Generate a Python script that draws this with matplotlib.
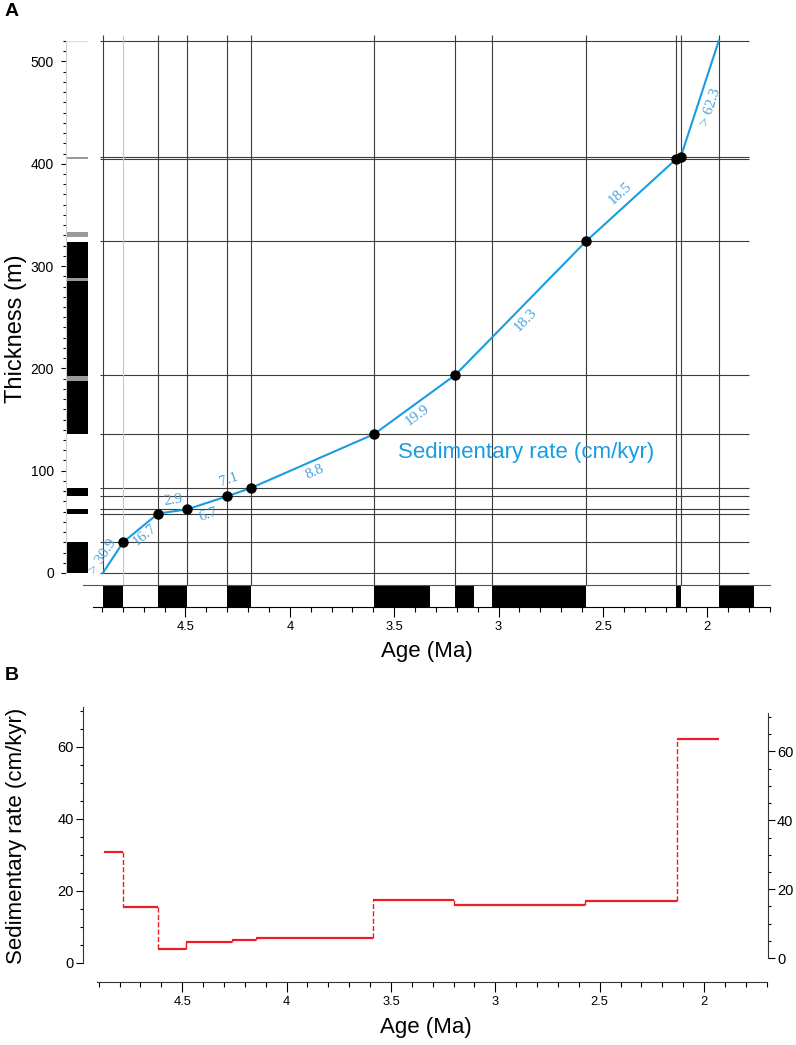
import numpy as np
import matplotlib
matplotlib.use("Agg")
import matplotlib.pyplot as plt
from matplotlib.ticker import MultipleLocator, FixedLocator

plt.rcParams['font.family'] = ['Liberation Sans', 'DejaVu Sans']

W, H = 796, 1045

# age model tie points: age (Ma) vs stratigraphic thickness (m)
tie_age = [4.896, 4.799, 4.631, 4.493, 4.300, 4.187, 3.596, 3.207, 2.581, 2.148, 2.128, 1.945]
tie_thick = [0, 30, 58.1, 62.1, 75, 83, 135.7, 193.5, 324, 404.5, 406, 520]
rate_labels = ['> 30.9', '16.7', '2.9', '6.7', '7.1', '8.8', '19.9', '18.3', '18.5', '', '> 62.3']

# extra chron boundaries drawn as vertical lines
chron_lines = [4.896, 4.799, 4.631, 4.493, 4.300, 4.187, 3.596, 3.207, 3.032, 2.581, 2.148, 2.128, 1.945]

# GPTS normal polarity intervals (Ma)
gpts_base = [4.896, 4.631, 4.300, 3.596, 3.207, 3.032, 2.148, 1.945]
gpts_top = [4.799, 4.493, 4.187, 3.330, 3.116, 2.581, 2.128, 1.778]

# section polarity column (m)
col_black = [(0, 30), (58.1, 62.1), (75, 83), (136, 324)]
col_gray = [(188, 193), (285, 288), (328, 333), (405, 406.5)]

# panel B step curve
b_edges = [4.875, 4.785, 4.615, 4.482, 4.263, 4.147, 3.585, 3.198, 2.571, 2.13, 1.929]
b_rate = [30.9, 15.6, 3.8, 5.8, 6.4, 6.9, 17.5, 16.1, 17.2, 62.0]

BLUE = '#1a9de0'
LBLUE = '#4aa3dc'
RED = '#ee1c24'
GRID = '#3c3c3c'


def rect(x0, y0, x1, y1):
    return [x0 / W, 1 - y1 / H, (x1 - x0) / W, (y1 - y0) / H]


fig = plt.figure(figsize=(W / 100, H / 100), dpi=100)

# ---------------- panel A ----------------
XL = (4.991, 1.7)
axA = fig.add_axes(rect(83, 35, 770, 585))
axA.set_xlim(*XL)
axA.set_ylim(-11.7, 525.4)
axA.axis('off')

for t in tie_thick:
    axA.hlines(t, 4.91, 1.801, color=GRID, lw=0.8)
for a in chron_lines:
    c = '#c8c8c8' if a == 4.799 else GRID
    lo = 0 if a == 4.896 else -11.7
    axA.vlines(a, lo, 525.4, color=c, lw=0.8)

axA.plot(tie_age, tie_thick, color=BLUE, lw=1.5, zorder=3)
axA.plot(tie_age[1:-1], tie_thick[1:-1], 'o', color='black', ms=6.5, zorder=4)

label_xy = [(4.895, 15.6), (4.694, 37), (4.560, 71.3), (4.392, 56.6), (4.292, 90.8),
            (3.880, 98.6), (3.391, 154.3), (2.869, 247), (2.419, 371), None, (1.983, 455)]
for i, lab in enumerate(rate_labels):
    if not lab:
        continue
    p0 = axA.transData.transform((tie_age[i], tie_thick[i]))
    p1 = axA.transData.transform((tie_age[i + 1], tie_thick[i + 1]))
    ang = np.degrees(np.arctan2(p1[1] - p0[1], p1[0] - p0[0]))
    axA.text(*label_xy[i], lab, rotation=ang, rotation_mode='anchor', ha='center', va='center',
             color=LBLUE, fontsize=11, family=['Liberation Serif', 'DejaVu Serif'], zorder=5)

axA.text(3.482, 118, 'Sedimentary rate (cm/kyr)', color=BLUE, fontsize=16, ha='left', va='center')

# polarity bar along age axis
axBar = fig.add_axes(rect(83, 585, 770, 607))
axBar.set_xlim(*XL)
axBar.set_ylim(0, 1)
for b, t in zip(gpts_base, gpts_top):
    axBar.axvspan(b, t, color='black', lw=0)
for s in ['left', 'right']:
    axBar.spines[s].set_visible(False)
axBar.spines['top'].set_color('#555555')
axBar.spines['top'].set_linewidth(0.8)
axBar.spines['bottom'].set_linewidth(0.8)
axBar.spines['bottom'].set_bounds(4.944, 1.7)
axBar.set_yticks([])
axBar.xaxis.set_major_locator(FixedLocator([4.5, 4, 3.5, 3, 2.5, 2]))
axBar.xaxis.set_minor_locator(FixedLocator(np.round(np.arange(1.7, 4.95, 0.1), 2)))
axBar.set_xticklabels(['4.5', '4', '3.5', '3', '2.5', '2'])
axBar.tick_params(axis='x', which='major', length=7.2, width=0.8, labelsize=9.3, pad=3)
axBar.tick_params(axis='x', which='minor', length=3.6, width=0.8)
axBar.set_xlabel('Age (Ma)', fontsize=16, labelpad=6)

# polarity column along thickness axis
axC = fig.add_axes(rect(66, 41, 88, 573))
axC.set_xlim(0, 1)
axC.set_ylim(0, 520)
for lo, hi in col_black:
    axC.axhspan(lo, hi, color='black', lw=0)
for lo, hi in col_gray:
    axC.axhspan(lo, hi, color='#9a9a9a', lw=0)
axC.axhline(520, color='#dddddd', lw=1)
for s in ['top', 'right', 'bottom']:
    axC.spines[s].set_visible(False)
axC.spines['left'].set_color('#d0d0d0')
axC.set_xticks([])
axC.yaxis.set_major_locator(MultipleLocator(100))
axC.yaxis.set_minor_locator(MultipleLocator(10))
axC.tick_params(axis='y', which='major', length=3.6, width=0.8, labelsize=10, pad=5)
axC.tick_params(axis='y', which='minor', length=2.4, width=0.8)

fig.text(16 / W, 1 - 329 / H, 'Thickness (m)', rotation=90, fontsize=17, ha='center', va='center')

# ---------------- panel B ----------------
axB = fig.add_axes(rect(83, 707, 768, 963))
axB.set_xlim(4.975, 1.694)
axB.set_ylim(0, 71)
for i, r in enumerate(b_rate):
    axB.hlines(r, b_edges[i], b_edges[i + 1], color=RED, lw=1.6)
    if i + 1 < len(b_rate):
        r2 = b_rate[i + 1]
        ls = '--' if abs(r2 - r) > 3 else '-'
        axB.vlines(b_edges[i + 1], r, r2, color=RED, lw=1.0, linestyles=ls)

axB.spines['top'].set_visible(False)
axB.spines['right'].set_visible(False)
axB.spines['bottom'].set_position(('outward', 13.7))
axB.spines['bottom'].set_bounds(4.91, 1.7)
axB.spines['left'].set_bounds(0, 71)
for s in ['left', 'bottom']:
    axB.spines[s].set_linewidth(0.8)
    axB.spines[s].set_color('#333333')
axB.xaxis.set_major_locator(FixedLocator([4.5, 4, 3.5, 3, 2.5, 2]))
axB.xaxis.set_minor_locator(FixedLocator(np.round(np.arange(1.7, 4.95, 0.1), 2)))
axB.set_xticklabels(['4.5', '4', '3.5', '3', '2.5', '2'])
axB.tick_params(axis='x', which='major', length=7.2, width=0.8, labelsize=9.3, pad=3)
axB.tick_params(axis='x', which='minor', length=3.6, width=0.8)
axB.yaxis.set_major_locator(MultipleLocator(20))
axB.yaxis.set_minor_locator(MultipleLocator(5))
axB.tick_params(axis='y', which='major', length=5, width=0.8, labelsize=10.5, pad=1.5)
axB.tick_params(axis='y', which='minor', length=2.4, width=0.8)
axB.set_xlabel('Age (Ma)', fontsize=16, labelpad=6)

axR = axB.twinx()
axR.set_ylim(-1.4, 72.9)
for s in ['top', 'left', 'bottom']:
    axR.spines[s].set_visible(False)
axR.spines['right'].set_bounds(0, 71.2)
axR.spines['right'].set_linewidth(0.8)
axR.spines['right'].set_color('#333333')
axR.yaxis.set_major_locator(MultipleLocator(20))
axR.yaxis.set_minor_locator(MultipleLocator(5))
axR.tick_params(axis='y', which='major', length=5, width=0.8, labelsize=10.5, pad=1.5)
axR.tick_params(axis='y', which='minor', length=2.4, width=0.8)

fig.text(17 / W, 1 - 836 / H, 'Sedimentary rate (cm/kyr)', rotation=90, fontsize=16,
         ha='center', va='center')

fig.text(12 / W, 1 - 12 / H, 'A', fontsize=14, fontweight='bold', ha='center', va='center')
fig.text(12 / W, 1 - 675 / H, 'B', fontsize=14, fontweight='bold', ha='center', va='center')

fig.savefig('out.png', dpi=100)
